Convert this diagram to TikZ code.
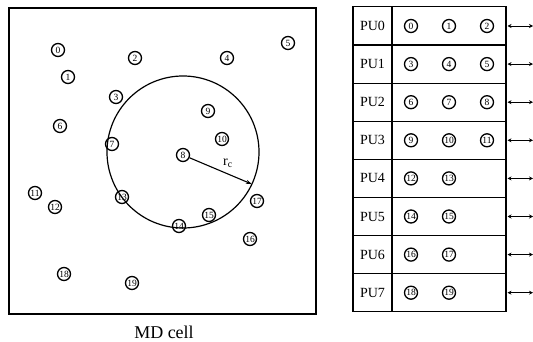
\documentclass[tikz,border=0pt]{standalone}
\usepackage{fontspec}
\setmainfont{Liberation Serif}
\usetikzlibrary{arrows.meta,positioning,calc}
\tikzset{
  particle/.style={circle, draw, line width=1.3pt, inner sep=0pt, minimum size=13pt,
    font=\fontsize{9.5}{9.5}\selectfont},
  cellbox/.style={draw, line width=1.5pt, minimum width=307pt, minimum height=306pt},
  pubox/.style={draw, line width=1.1pt, outer sep=0pt, minimum width=39pt, minimum height=38.1pt,
    font=\fontsize{14}{14}\selectfont},
  rowbox/.style={draw, line width=1.1pt, outer sep=0pt, minimum width=114pt, minimum height=38.1pt},
  linkarrow/.style={{Stealth[length=4pt,width=4pt]}-{Stealth[length=4pt,width=4pt]}, line width=0.9pt},
  cutoff/.style={-{Stealth[length=6pt,width=4pt]}, line width=1.1pt}
}
\begin{document}
\begin{tikzpicture}[x=1pt, y=-1pt]
  \useasboundingbox (0,0) rectangle (533,342);
  % MD cell with particles
  \node[cellbox] (cell) at (162.5,161) {};
  \node[font=\fontsize{18}{18}\selectfont] (cellname) at (164,332) {MD cell};
  \coordinate (cutc) at (183,152);
  \draw[line width=1.2pt] (cutc) circle[radius=76];
  \foreach \n/\x/\y in {0/58/50, 1/68/77, 2/135/58, 3/116/97, 4/227/58,
      5/288/43, 6/60/126, 7/112/144, 8/183/155, 9/208/111, 10/222/139,
      11/35/193, 12/55/207, 13/122/197, 14/179/226, 15/209/215,
      16/250/239, 17/257/201, 18/64/274, 19/132/283}
    \node[particle] (p\n) at (\x,\y) {\n};
  \coordinate (rim) at ($(cutc)+(25:76)$);
  \draw[cutoff] (p8) -- (rim);
  \node[font=\fontsize{14}{14}\selectfont] (rc) at (228,163) {r\textsubscript{c}};
  % processing units
  \foreach \i in {0,...,7} {
    \node[pubox] (pu\i) at (372.5,{26+38.1*\i}) {PU\i};
    \node[rowbox, right=0pt of pu\i] (row\i) {};
    \coordinate (port\i) at (533,{26+38.1*\i});
    \draw[linkarrow] ([xshift=1.5pt]row\i.east) -- (port\i);
  }
  \foreach \i in {0,...,3} {
    \pgfmathtruncatemacro{\a}{3*\i}
    \pgfmathtruncatemacro{\b}{3*\i+1}
    \pgfmathtruncatemacro{\c}{3*\i+2}
    \node[particle] (q\a) at (411,{26+38.1*\i}) {\a};
    \node[particle] (q\b) at (449,{26+38.1*\i}) {\b};
    \node[particle] (q\c) at (487,{26+38.1*\i}) {\c};
  }
  \foreach \i in {4,...,7} {
    \pgfmathtruncatemacro{\a}{12+2*(\i-4)}
    \pgfmathtruncatemacro{\b}{13+2*(\i-4)}
    \node[particle] (q\a) at (411,{26+38.1*\i}) {\a};
    \node[particle] (q\b) at (449,{26+38.1*\i}) {\b};
  }
\end{tikzpicture}
\end{document}
